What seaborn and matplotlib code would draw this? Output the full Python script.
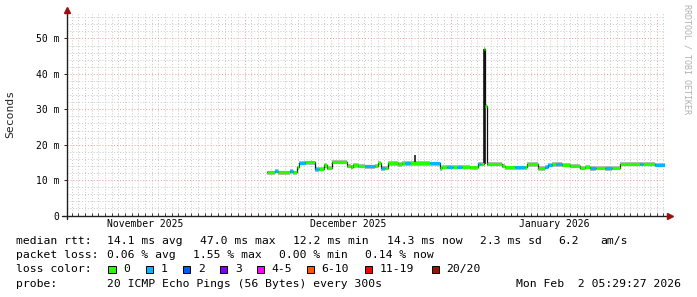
import numpy as np
import pandas as pd
import matplotlib
matplotlib.use("Agg")
import matplotlib.pyplot as plt
import matplotlib.dates as mdates
from matplotlib.patches import Rectangle
from matplotlib.lines import Line2D
from matplotlib.ticker import MultipleLocator, FuncFormatter
import seaborn as sns

# ---------------- data ----------------
# median rtt segments: start (days since 2025-12-01 00:00), value in ms, lost pings
seg_day = [3.40, 4.56, 5.01, 6.81, 7.26, 7.86, 8.24, 9.07, 10.57, 11.17,
           11.92, 12.38, 13.08, 15.38, 15.98, 16.29, 17.04, 18.09, 19.59, 20.05,
           20.50, 21.10, 21.55, 23.05, 23.65, 24.10, 24.86, 27.86, 29.37, 29.67,
           30.42, 31.30, 31.90, 32.68, 33.88, 35.08, 35.53, 35.98, 36.21, 36.44,
           38.69, 39.14, 40.65, 42.15, 42.45, 44.11, 45.16, 45.61, 46.21, 46.90,
           47.71, 48.92, 50.42, 51.17, 51.93, 52.83, 54.18, 55.24, 56.44, 59.44,
           59.89, 61.70]
seg_median = [12.2, 12.6, 12.2, 12.5, 12.2, 13.6, 14.9, 15.0, 13.1, 13.2,
              14.2, 13.5, 15.2, 14.0, 13.7, 14.2, 14.0, 13.9, 14.0, 14.9,
              13.4, 13.5, 14.8, 14.5, 14.8, 14.8, 14.8, 14.7, 13.4, 13.8,
              13.8, 13.8, 13.8, 13.8, 13.6, 14.6, 14.6, 47.0, 31.0, 14.6,
              14.0, 13.6, 13.6, 13.6, 14.5, 13.4, 13.7, 14.4, 14.5, 14.5,
              14.4, 14.1, 13.5, 13.8, 13.4, 13.5, 13.4, 13.5, 14.6, 14.6,
              14.6, 14.4]
seg_loss = [0, 1, 0, 1, 0, 0, 1, 0, 1, 0,
            0, 0, 0, 0, 0, 0, 0, 1, 0, 0,
            1, 0, 0, 0, 0, 1, 0, 1, 0, 0,
            1, 0, 1, 0, 0, 1, 0, 0, 0, 0,
            0, 0, 1, 0, 0, 0, 1, 1, 0, 1,
            0, 0, 0, 0, 1, 0, 1, 0, 0, 1,
            0, 1]
# dark smoke (slow pings) columns
smoke_day = [25.60, 35.98, 36.21]
smoke_low = [14.8, 14.6, 14.6]
smoke_top = [17.0, 47.0, 47.0]

month_labels = ["November 2025", "December 2025", "January 2026"]
month_mids = ["2025-11-16", "2025-12-16 12:00", "2026-01-16 12:00"]

loss_names = ["0", "1", "2", "3", "4-5", "6-10", "11-19", "20/20"]
loss_colors = ["#26ff00", "#00b8ff", "#0059ff", "#7e00ff", "#ff00ff",
               "#ff5500", "#ff0000", "#a01000"]

rtt_stats = ["14.1 ms avg", "47.0 ms max", "12.2 ms min", "14.3 ms now",
             "2.3 ms sd", "6.2", "am/s"]
loss_stats = ["0.06 % avg", "1.55 % max", "0.00 % min", "0.14 % now"]
probe_text = "20 ICMP Echo Pings (56 Bytes) every 300s"
stamp_text = "Mon Feb  2 05:29:27 2026"

# ---------------- style ----------------
sns.set_style("white")
plt.rcParams["font.family"] = ["DejaVu Sans Mono"]

W, H = 697, 297
fig = plt.figure(figsize=(W / 100, H / 100), dpi=100)
fig.patch.set_facecolor("white")
X0, X1, Y0, Y1 = 66.7, 665.0, 215.5, 13.0
ax = fig.add_axes([X0 / W, (H - Y0) / H, (X1 - X0) / W, (Y0 - Y1) / H])
ax.set_facecolor("white")

base = pd.Timestamp("2025-12-01")
t_end = pd.Timestamp("2026-02-02 05:29:27")
t_start = t_end - pd.Timedelta(days=90)

seg_t = list(base + pd.to_timedelta(seg_day, unit="D"))
ends = seg_t[1:] + [t_end]
df = pd.DataFrame({"time": seg_t + [t_end],
                   "median": seg_median + [seg_median[-1]]})

# light smoke band
ax.fill_between(df["time"], df["median"] - 0.7, df["median"] + 0.5,
                step="post", color="#bcbcbc", lw=0, zorder=2)
# dark smoke
sm_t = list(base + pd.to_timedelta(smoke_day, unit="D"))
ax.vlines(sm_t, smoke_low, smoke_top, color="#1a1a1a", lw=1.2, zorder=3)
# median connector line
sns.lineplot(data=df, x="time", y="median", drawstyle="steps-post",
             color="#111111", lw=0.9, ax=ax, zorder=3)
# median coloured by loss
for i in range(len(seg_day)):
    ax.hlines(seg_median[i], seg_t[i], ends[i],
              color=loss_colors[seg_loss[i]], lw=2.3, zorder=4)

ax.set_xlim(t_start, t_end)
ax.set_ylim(0, 57.2)
ax.set_xlabel("")
ax.set_ylabel("")

ax.xaxis.set_major_locator(mdates.MonthLocator())
ax.xaxis.set_minor_locator(mdates.DayLocator())
ax.xaxis.set_major_formatter(FuncFormatter(lambda v, p: ""))
ax.yaxis.set_major_locator(MultipleLocator(10))
ax.yaxis.set_minor_locator(MultipleLocator(2))
ax.yaxis.set_major_formatter(FuncFormatter(lambda v, p: "0" if v == 0 else f"{int(round(v))} m"))

ax.grid(which="minor", color="#c8c8c8", lw=0.7, ls=(0, (1, 2)), zorder=0)
ax.grid(which="major", color="#e59c9c", lw=0.7, ls=(0, (1, 2)), zorder=1)
ax.set_axisbelow(True)

for s in ax.spines.values():
    s.set_visible(False)
ax.tick_params(axis="y", which="major", direction="out", length=2.5, width=0.7,
               color="#202020", pad=3, labelsize=7, labelcolor="black", left=True)
ax.tick_params(axis="y", which="minor", length=0)
ax.tick_params(axis="x", which="both", direction="in", length=2, width=0.6,
               color="#202020", bottom=True)

# month labels centred on months
for lab, mid in zip(month_labels, month_mids):
    ax.annotate(lab, xy=(mdates.date2num(pd.Timestamp(mid)), 0),
                xycoords=("data", "axes fraction"), xytext=(0, -6.3),
                textcoords="offset points", ha="center", va="center",
                fontsize=7, color="black", annotation_clip=False)

# axes lines with arrows
tf = fig.transFigure
fig.add_artist(Line2D([62 / W, 668 / W], [1 - Y0 / H, 1 - Y0 / H], color="#202020", lw=1.0, transform=tf))
fig.add_artist(Line2D([X0 / W, X0 / W], [1 - 219 / H, 1 - 12 / H], color="#202020", lw=1.0, transform=tf))
fig.add_artist(Line2D([670 / W], [1 - Y0 / H], marker=">", ms=4, color="#9a1010", lw=0, transform=tf))
fig.add_artist(Line2D([X0 / W], [1 - 10 / H], marker="^", ms=4, color="#9a1010", lw=0, transform=tf))

# y label and watermark
fig.text(10.7 / W, 1 - 113.7 / H, "Seconds", rotation=90, ha="center", va="center", fontsize=8.2)
fig.text(687 / W, 1 - 4 / H, "RRDTOOL / TOBI OETIKER", rotation=-90, ha="center", va="top",
         fontsize=6, color="#b0b0b0")

# legend text
FS = 8.2
def t(x, y, s, **kw):
    fig.text(x / W, 1 - y / H, s, ha=kw.pop("ha", "left"), va="center", fontsize=FS, color="black", **kw)

r1, r2, r3, r4 = 241.3, 255.3, 269.3, 283.7
t(16, r1, "median rtt:")
for x, s in zip([107.3, 200.0, 293.3, 387.0, 479.7, 558.5, 600.5], rtt_stats):
    t(x, r1, s)
t(16, r2, "packet loss:")
for x, s in zip([107.3, 193.3, 279.3, 365.0], loss_stats):
    t(x, r2, s)
t(16, r3, "loss color:")
box_x = [108.3, 145.7, 182.7, 220.0, 256.7, 306.7, 364.8, 431.6]
for x, name, col in zip(box_x, loss_names, loss_colors):
    fig.add_artist(Rectangle((x / W, 1 - (r3 + 3.7) / H), 7.4 / W, 7.4 / H, transform=tf,
                             facecolor=col, edgecolor="black", lw=0.7))
    t(x + 15, r3, name)
t(16, r4, "probe:")
t(107.3, r4, probe_text)
t(681, r4, stamp_text, ha="right")

fig.savefig("out.png", dpi=100, facecolor="white")
